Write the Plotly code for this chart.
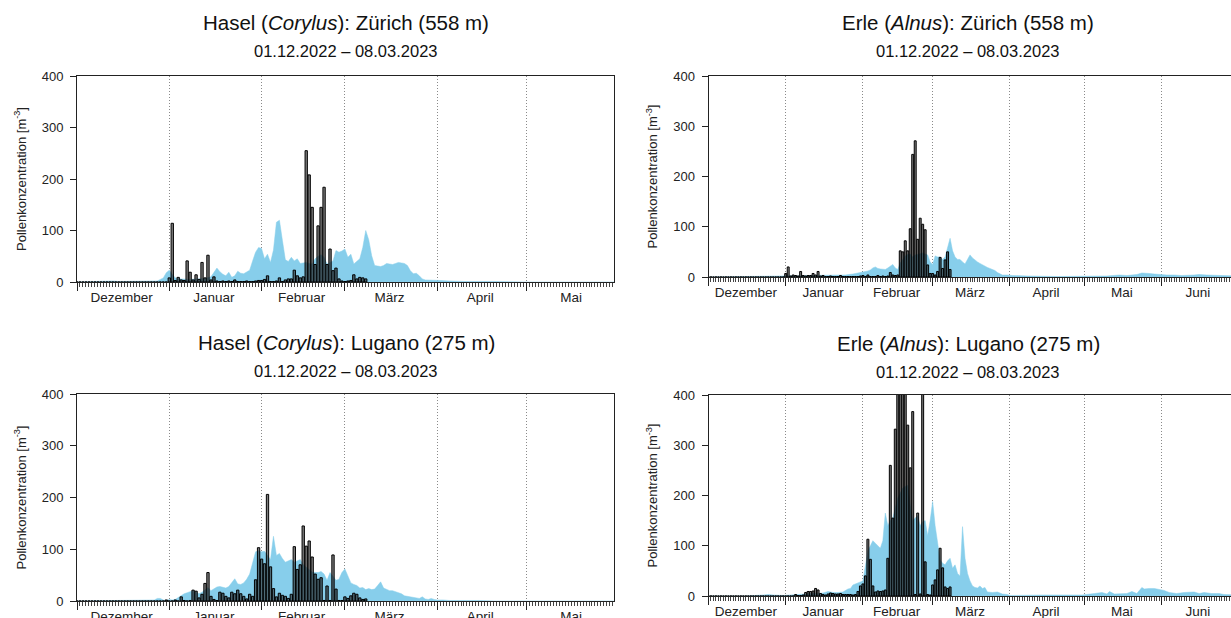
import plotly.graph_objects as go

# ---------------- data ----------------
start_label = "01.12.2022 – 08.03.2023"
month_names = ["Dezember", "Januar", "Februar", "März", "April", "Mai", "Juni"]
month_lengths = [31, 31, 28, 31, 30, 31, 30]

# daily values 01.12.2022 .. 08.03.2023 (day index 0..97)
hasel_zh_bars = [
    0, 0, 0, 0, 0, 0, 0, 0, 0, 0,
    0, 0, 0, 0, 0, 0, 0, 0, 0, 0,
    0, 0, 0, 0, 0, 0, 0, 0, 0, 0,
    0, 8, 114, 3, 9, 4, 3, 41, 19, 4,
    14, 5, 38, 8, 52, 4, 10, 2, 1, 2,
    1, 2, 1, 4, 1, 1, 1, 2, 1, 1,
    2, 3, 3, 5, 12, 1, 1, 2, 8, 1,
    4, 6, 6, 23, 12, 8, 10, 255, 208, 145,
    34, 109, 145, 184, 34, 64, 22, 27, 6, 2,
    1, 2, 3, 14, 6, 9, 8, 6,
]
erle_zh_bars = [
    0, 0, 0, 0, 0, 0, 0, 0, 0, 0,
    0, 0, 0, 0, 0, 0, 0, 0, 0, 0,
    0, 0, 0, 0, 0, 0, 0, 0, 0, 0,
    0, 7, 20, 2, 4, 3, 2, 11, 3, 2,
    3, 3, 7, 4, 11, 2, 3, 1, 1, 2,
    1, 1, 1, 3, 1, 1, 1, 1, 1, 1,
    1, 2, 3, 1, 4, 1, 1, 1, 3, 1,
    2, 1, 2, 9, 4, 3, 4, 52, 50, 72,
    52, 96, 244, 271, 75, 117, 105, 94, 24, 7,
    7, 4, 11, 39, 17, 34, 50, 15,
]
hasel_lu_bars = [
    0, 0, 0, 0, 0, 0, 0, 0, 0, 0,
    0, 0, 0, 0, 0, 0, 0, 0, 0, 0,
    0, 0, 0, 0, 0, 0, 0, 0, 0, 0,
    2, 0, 0, 2, 0, 8, 1, 0, 1, 21,
    19, 6, 13, 34, 55, 9, 3, 1, 17, 15,
    9, 6, 17, 14, 21, 14, 9, 4, 13, 9,
    41, 103, 81, 72, 206, 66, 24, 8, 15, 11,
    9, 5, 13, 105, 61, 70, 145, 106, 116, 85,
    52, 42, 45, 1, 29, 1, 89, 23, 1, 1,
    8, 5, 10, 15, 13, 6, 3, 4,
]
erle_lu_bars = [
    0, 0, 0, 0, 0, 0, 0, 0, 0, 0,
    0, 0, 0, 0, 0, 0, 0, 0, 0, 0,
    0, 0, 0, 0, 0, 0, 0, 0, 0, 0,
    0, 0, 0, 0, 0, 3, 1, 1, 2, 7,
    9, 9, 10, 15, 12, 5, 3, 2, 4, 6,
    5, 4, 4, 5, 3, 3, 3, 3, 2, 3,
    9, 20, 24, 40, 113, 73, 20, 8, 10, 9,
    10, 12, 75, 260, 155, 332, 520, 610, 560, 470,
    340, 255, 367, 3, 165, 4, 430, 68, 3, 2,
    22, 32, 52, 95, 56, 18, 15, 18,
]

# multi-year mean (blue area): day index since 01.12. and value
hasel_zh_mean_days = [0, 5, 10, 12, 14, 20, 25, 27, 28, 29, 30, 31, 32, 33, 35, 38, 40, 43, 45, 47,
                      48, 49, 50, 51, 52, 53, 54, 55, 56, 57, 58, 59, 60, 61, 62, 63, 64, 65, 66, 67,
                      68, 69, 70, 71, 72, 73, 74, 75, 76, 77, 78, 79, 80, 81, 82, 83, 84, 85, 86, 87,
                      88, 89, 90, 91, 92, 93, 94, 95, 96, 97, 98, 99, 100, 101, 102, 103, 104, 105, 106, 107,
                      108, 109, 110, 111, 112, 113, 114, 115, 116, 117, 118, 120, 122, 125, 130, 140, 150, 182]
hasel_zh_mean_vals = [0, 1, 1, 2, 1, 1, 1, 2, 5, 8, 18, 23, 15, 8, 6, 5, 6, 7, 10, 27,
                      20, 15, 12, 19, 9, 12, 21, 17, 16, 20, 23, 41, 58, 67, 65, 45, 54, 38, 62, 116,
                      120, 81, 43, 40, 48, 41, 45, 36, 37, 38, 36, 35, 45, 50, 53, 48, 35, 38, 41, 61,
                      58, 60, 64, 48, 54, 35, 40, 45, 67, 100, 82, 51, 32, 31, 30, 32, 36, 35, 34, 36,
                      38, 37, 36, 32, 22, 16, 17, 12, 6, 4, 4, 4, 3, 2, 1, 1, 0, 0]

erle_zh_mean_days = [0, 20, 28, 30, 31, 35, 40, 45, 50, 55, 58, 60, 62, 63, 64, 65, 66, 67, 68, 69,
                     70, 71, 72, 73, 74, 75, 76, 77, 78, 79, 80, 81, 82, 83, 84, 85, 86, 87, 88, 89,
                     90, 91, 92, 93, 94, 95, 96, 97, 98, 99, 100, 101, 102, 103, 104, 105, 106, 107, 108, 109,
                     110, 111, 112, 113, 114, 115, 116, 117, 118, 120, 122, 128, 140, 160, 163, 165, 168, 170, 172, 174,
                     175, 177, 179, 181, 182, 184, 187, 190, 195, 197, 200, 204, 207, 212]
erle_zh_mean_vals = [0, 1, 1, 2, 3, 2, 3, 3, 4, 4, 6, 8, 9, 11, 12, 14, 18, 20, 17, 16,
                     15, 15, 18, 22, 25, 18, 15, 28, 35, 42, 45, 46, 40, 44, 45, 47, 48, 46, 44, 30,
                     25, 42, 40, 40, 35, 40, 60, 77, 52, 40, 35, 35, 30, 26, 35, 44, 38, 33, 30, 27,
                     24, 21, 19, 17, 15, 13, 9, 6, 4, 4, 3, 2, 1, 2, 3, 4, 3, 4, 5, 8,
                     8, 7, 6, 5, 5, 4, 4, 3, 4, 5, 4, 3, 2, 2]

hasel_lu_mean_days = [0, 10, 20, 26, 27, 28, 29, 30, 31, 32, 33, 34, 35, 36, 37, 38, 39, 40, 41, 42,
                      43, 44, 45, 46, 47, 48, 49, 50, 51, 52, 53, 54, 55, 56, 57, 58, 59, 60, 61, 62,
                      63, 64, 65, 66, 67, 68, 69, 70, 71, 72, 73, 74, 75, 76, 77, 78, 79, 80, 81, 82,
                      83, 84, 85, 86, 87, 88, 89, 90, 91, 92, 93, 94, 95, 96, 97, 98, 99, 100, 101, 102,
                      103, 104, 105, 106, 107, 108, 109, 110, 111, 112, 113, 114, 115, 116, 117, 118, 119, 120, 121, 123,
                      125, 135, 140, 182]
hasel_lu_mean_vals = [0, 1, 1, 2, 5, 5, 2, 1, 3, 2, 3, 7, 10, 14, 16, 18, 20, 17, 14, 17,
                      22, 26, 20, 24, 27, 28, 27, 25, 28, 35, 43, 33, 32, 35, 42, 52, 75, 95, 97, 95,
                      96, 88, 80, 125, 88, 92, 82, 75, 78, 80, 75, 78, 80, 70, 65, 60, 56, 55, 55, 57,
                      52, 40, 55, 48, 40, 42, 55, 62, 48, 35, 32, 30, 25, 26, 22, 24, 22, 23, 30, 37,
                      25, 22, 20, 20, 18, 15, 14, 10, 9, 8, 8, 6, 5, 8, 4, 3, 5, 3, 2, 2,
                      1, 1, 0, 0]

erle_lu_mean_days = [0, 15, 22, 24, 26, 28, 30, 33, 35, 37, 39, 42, 44, 46, 48, 50, 52, 54, 56, 57,
                     58, 59, 60, 61, 62, 63, 64, 65, 66, 67, 68, 69, 70, 71, 72, 73, 74, 75, 76, 77,
                     78, 79, 80, 81, 82, 83, 84, 85, 86, 87, 88, 89, 90, 91, 92, 93, 94, 95, 96, 97,
                     98, 99, 100, 101, 102, 103, 104, 105, 106, 107, 108, 109, 110, 111, 112, 114, 116, 118, 120, 121,
                     135, 150, 155, 158, 160, 161, 163, 165, 168, 170, 172, 174, 175, 177, 179, 181, 183, 185, 188, 191,
                     193, 195, 197, 199, 202, 205, 207, 212]
erle_lu_mean_vals = [0, 0, 2, 3, 2, 1, 1, 2, 3, 4, 5, 5, 5, 6, 9, 7, 7, 8, 14, 15,
                     22, 24, 25, 28, 30, 60, 90, 100, 110, 105, 100, 95, 110, 165, 140, 150, 155, 175, 195, 205,
                     215, 218, 220, 180, 150, 155, 160, 140, 148, 150, 120, 150, 188, 140, 100, 72, 65, 62, 70, 75,
                     55, 62, 45, 40, 138, 75, 45, 30, 20, 17, 16, 20, 15, 17, 8, 7, 8, 4, 3, 1,
                     2, 2, 5, 7, 4, 9, 4, 5, 5, 9, 5, 17, 14, 15, 15, 13, 11, 7, 5, 7,
                     8, 8, 5, 7, 5, 5, 3, 2]

panels = [
    dict(title="Hasel (<i>Corylus</i>): Zürich (558 m)", bars=hasel_zh_bars,
         md=hasel_zh_mean_days, mv=hasel_zh_mean_vals),
    dict(title="Erle (<i>Alnus</i>): Zürich (558 m)", bars=erle_zh_bars,
         md=erle_zh_mean_days, mv=erle_zh_mean_vals),
    dict(title="Hasel (<i>Corylus</i>): Lugano (275 m)", bars=hasel_lu_bars,
         md=hasel_lu_mean_days, mv=hasel_lu_mean_vals),
    dict(title="Erle (<i>Alnus</i>): Lugano (275 m)", bars=erle_lu_bars,
         md=erle_lu_mean_days, mv=erle_lu_mean_vals),
]

# ---------------- layout geometry (pixels) ----------------
W, H = 1231, 618
boxes = [  # x0, x1, ytop, ybottom, xmax(days)
    (77, 614, 76, 282, 180.4),
    (708.5, 1231, 76, 277, 209.8),
    (77, 614, 394, 601, 180.4),
    (708.5, 1231, 395, 596, 209.8),
]
title_pos = [(346, 22, 51), (968, 22, 51), (346, 342, 371), (968, 343, 372)]

FONT = "Liberation Sans"
BLUE = "rgb(135,206,235)"

month_starts = [0]
for L in month_lengths[:-1]:
    month_starts.append(month_starts[-1] + L)
month_mids = [s + (L - 1) / 2 for s, L in zip(month_starts, month_lengths)]

fig = go.Figure()
layout = dict(width=W, height=H, margin=dict(l=0, r=0, t=0, b=0, autoexpand=False),
              paper_bgcolor="white", plot_bgcolor="white", showlegend=False,
              font=dict(family=FONT, color="#111"), annotations=[])

for i, (p, box, tp) in enumerate(zip(panels, boxes, title_pos)):
    n = i + 1
    xa = "x" if n == 1 else f"x{n}"
    ya = "y" if n == 1 else f"y{n}"
    xl = f"x{n + 4}"
    x0, x1, yt, yb, xmax = box
    dom_x = [x0 / W, x1 / W]
    dom_y = [1 - yb / H, 1 - yt / H]

    # climatological mean as filled area (base axis, drawn below)
    fig.add_trace(go.Scatter(x=p["md"], y=p["mv"], mode="lines", fill="tozeroy",
                             fillcolor=BLUE, line=dict(color=BLUE, width=0.5),
                             xaxis=xa, yaxis=ya, hoverinfo="skip"))
    # daily values as bars on the overlaid axis (drawn on top)
    fig.add_trace(go.Bar(x=list(range(len(p["bars"]))), y=p["bars"], width=0.78,
                         marker=dict(color="rgba(40,40,40,0.6)",
                                     line=dict(color="black", width=1)),
                         xaxis=xl, yaxis=ya))

    layout[f"xaxis{'' if n == 1 else n}"] = dict(
        domain=dom_x, anchor=ya, range=[0, xmax], tickmode="array",
        tickvals=month_starts, ticktext=[" "] * len(month_starts),
        ticks="outside", ticklen=8, tickcolor="#222", tickwidth=1,
        showline=True, linecolor="#222", linewidth=1, mirror=True,
        showgrid=True, gridcolor="#8a8a8a", griddash="1px,2px", gridwidth=1,
        zeroline=False, fixedrange=True, automargin=False,
        minor=dict(tickmode="linear", tick0=0, dtick=1, ticks="outside",
                   ticklen=4, tickcolor="#444", tickwidth=1, showgrid=False),
    )
    layout[f"xaxis{n + 4}"] = dict(
        overlaying=xa, anchor=ya, side="bottom", range=[0, xmax], tickmode="array",
        tickvals=month_mids, ticktext=month_names, ticks="outside", ticklen=3,
        tickcolor="rgba(0,0,0,0)", showline=False, showgrid=False, zeroline=False,
        automargin=False, fixedrange=True,
        tickfont=dict(size=13.5, color="#222", family=FONT),
    )
    layout[f"yaxis{'' if n == 1 else n}"] = dict(
        domain=dom_y, anchor=xa, range=[0, 400], tickmode="array",
        tickvals=[0, 100, 200, 300, 400], ticks="outside", ticklen=6,
        tickcolor="#222", showline=True, linecolor="#222", linewidth=1,
        mirror=(n in (1, 3)), showgrid=False, zeroline=False, automargin=False,
        fixedrange=True,
        tickfont=dict(size=13, color="#222", family=FONT), ticklabelstandoff=4,
        title=dict(text="Pollenkonzentration [m<sup>-3</sup>]",
                   font=dict(size=13, color="#222", family=FONT), standoff=12),
    )
    cx, ty, sy = tp
    layout["annotations"].append(dict(
        text=p["title"], x=cx / W, y=1 - ty / H, xref="paper", yref="paper",
        xanchor="center", yanchor="middle", showarrow=False,
        font=dict(size=20.5, color="#111", family=FONT)))
    layout["annotations"].append(dict(
        text=start_label, x=cx / W, y=1 - sy / H, xref="paper", yref="paper",
        xanchor="center", yanchor="middle", showarrow=False,
        font=dict(size=16.5, color="#111", family=FONT)))

fig.update_layout(**layout)
fig.write_html("out.html", config={"displayModeBar": False},
               post_script="document.body.style.margin='0';document.body.style.overflow='hidden';")
